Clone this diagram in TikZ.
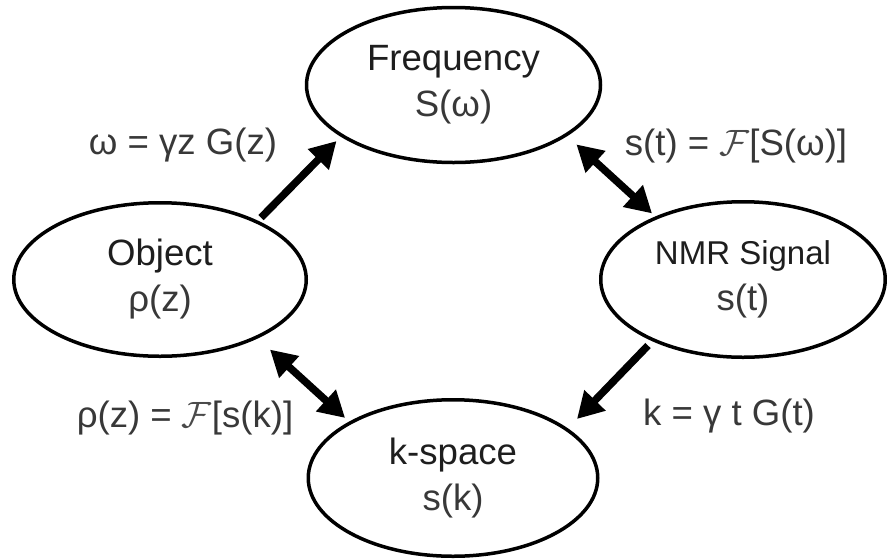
\documentclass[tikz,border=0pt]{standalone}
\usepackage{fontspec}
\setmainfont{Liberation Sans}
\DeclareFontShape{OMS}{cmsy}{m}{n}{<-> cmsy10}{}
\usetikzlibrary{shapes.geometric,arrows.meta,calc}
\definecolor{txtdark}{HTML}{1E1E1E}
\definecolor{txtgray}{HTML}{383838}
\definecolor{calF}{HTML}{4A4A4A}
\newcommand{\FT}{\textcolor{calF}{$\mathcal{F}$}}
\begin{document}
\begin{tikzpicture}[x=1pt,y=-1pt,
  state/.style={ellipse,draw=black,line width=3.5pt,inner sep=0pt,align=center,
    font=\fontsize{36.6}{46}\selectfont,text=txtdark},
  lbl/.style={anchor=base,inner sep=0pt,font=\fontsize{36.6}{44}\selectfont,text=txtgray},
  arr/.style={line width=7.5pt,-{Triangle[length=26pt,width=28pt]}},
  darr/.style={line width=7.5pt,{Triangle[length=26pt,width=28pt]}-{Triangle[length=26pt,width=28pt]}}]
\useasboundingbox (0,0) rectangle (887,558);
\fill[white] (0,0) rectangle (887,558);

\node[state,minimum width=294pt,minimum height=155pt] (freq) at (453.5,85)
  {Frequency\\\textcolor{txtgray}{S(ω)}};
\node[state,minimum width=292.5pt,minimum height=153.5pt] (obj) at (160,279.5)
  {Object\\\textcolor{txtgray}{ρ(z)}};
\node[state,minimum width=284.5pt,minimum height=155.5pt] (nmr) at (743,279.5)
  {{\fontsize{33}{46}\selectfont NMR Signal}\\\textcolor{txtgray}{s(t)}};
\node[state,minimum width=289.5pt,minimum height=156.5pt] (ksp) at (453,478)
  {k-space\\\textcolor{txtgray}{s(k)}};

\node[lbl] (l1) at (183,154) {ω = γz G(z)};
\node[lbl] (l2) at (736,155) {s(t) = \FT[S(ω)]};
\node[lbl] (l3) at (185,427) {ρ(z) = \FT[s(k)]};
\node[lbl] (l4) at (729,425) {k = γ t G(t)};

\draw[arr] ($(obj.center)+(31.5:118.5pt)$) -- ($(freq.center)+(205.6:129.7pt)$);
\draw[darr] ($(freq.center)+(-25.8:136.5pt)$) -- ($(nmr.center)+(144:112.4pt)$);
\draw[arr] ($(nmr.center)+(214.8:115.7pt)$) -- ($(ksp.center)+(25.45:137.3pt)$);
\draw[darr] ($(obj.center)+(-32.5:130.4pt)$) -- ($(ksp.center)+(150.9:123.5pt)$);
\end{tikzpicture}
\end{document}
